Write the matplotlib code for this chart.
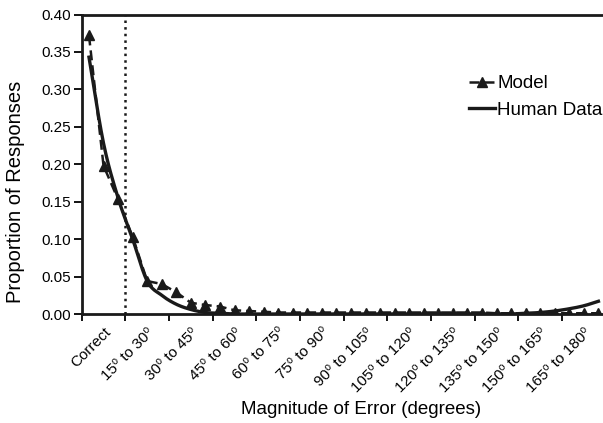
import matplotlib
matplotlib.use("Agg")
import matplotlib.pyplot as plt
import numpy as np

plt.rcParams['font.family'] = ['Liberation Sans', 'DejaVu Sans']

SUP = "\u2070"
categories = ["Correct", f"15{SUP} to 30{SUP}", f"30{SUP} to 45{SUP}", f"45{SUP} to 60{SUP}",
              f"60{SUP} to 75{SUP}", f"75{SUP} to 90{SUP}", f"90{SUP} to 105{SUP}",
              f"105{SUP} to 120{SUP}", f"120{SUP} to 135{SUP}", f"135{SUP} to 150{SUP}",
              f"150{SUP} to 165{SUP}", f"165{SUP} to 180{SUP}"]

# 5-degree resolution samples (3 per category)
model = [0.372, 0.198, 0.153, 0.103, 0.044, 0.040, 0.029, 0.015, 0.012, 0.010,
         0.005, 0.004, 0.003, 0.002, 0.002, 0.002, 0.002, 0.002, 0.002, 0.002,
         0.002, 0.002, 0.002, 0.002, 0.002, 0.002, 0.002, 0.002, 0.001, 0.001,
         0.001, 0.001, 0.001, 0.001, 0.001, 0.001]
human = [0.343, 0.228, 0.155, 0.100, 0.044, 0.025, 0.013, 0.006, 0.002, 0.001,
         0.000, 0.000, 0.000, 0.000, 0.000, 0.000, 0.000, 0.000, 0.000, 0.000,
         0.000, 0.000, 0.000, 0.000, 0.000, 0.000, 0.000, 0.000, 0.000, 0.000,
         0.001, 0.002, 0.004, 0.007, 0.011, 0.017]


def smooth(x, y, steps=12):
    """Catmull-Rom style smoothing through the given points (like a smoothed line)."""
    x = np.asarray(x, float)
    y = np.asarray(y, float)
    px = np.concatenate([[2 * x[0] - x[1]], x, [2 * x[-1] - x[-2]]])
    py = np.concatenate([[2 * y[0] - y[1]], y, [2 * y[-1] - y[-2]]])
    ox, oy = [], []
    t = np.linspace(0, 1, steps, endpoint=False)
    for i in range(1, len(px) - 2):
        for P, out in ((px, ox), (py, oy)):
            p0, p1, p2, p3 = P[i - 1], P[i], P[i + 1], P[i + 2]
            out.extend(0.5 * ((2 * p1) + (-p0 + p2) * t +
                              (2 * p0 - 5 * p1 + 4 * p2 - p3) * t ** 2 +
                              (-p0 + 3 * p1 - 3 * p2 + p3) * t ** 3))
    ox.append(x[-1])
    oy.append(y[-1])
    return np.array(ox), np.array(oy)


fig = plt.figure(figsize=(6.03, 4.23), dpi=100)
ax = fig.add_axes([81.7 / 603, (423 - 314) / 423, 524 / 603, 299.5 / 423])

n = len(model)
xs = -0.5 + (np.arange(n) + 0.5) / 3.0

hx, hy = smooth(xs, human)
hline, = ax.plot(hx, hy, '-', color='#1a1a1a', lw=2.4, zorder=3)
mline, = ax.plot(xs, model, '--', color='#1a1a1a', lw=1.8, marker='^',
                 markersize=7.5, dashes=(4, 2), zorder=4)

ax.axvline(0.5, color='#1a1a1a', ls=':', lw=1.8, zorder=2)

ax.set_xlim(-0.5, 11.5)
ax.set_ylim(0, 0.40)
yt = np.arange(0, 0.401, 0.05)
ax.set_yticks(yt)
ax.set_yticklabels([f"{v:.2f}" for v in yt], fontsize=11)

ax.set_xticks(np.arange(-0.5, 11.51, 1.0))
ax.set_xticklabels([])
ax.set_xticks(np.arange(12), minor=True)
ax.set_xticklabels(categories, minor=True, rotation=45, ha='right',
                   rotation_mode='anchor', fontsize=11)
ax.tick_params(axis='x', which='minor', length=0, pad=8)
ax.tick_params(axis='x', which='major', length=5, width=1.3, direction='out')
ax.tick_params(axis='y', length=6, width=1.3, direction='out', pad=1.5)

for s in ['left', 'bottom', 'top']:
    ax.spines[s].set_linewidth(2.0)
    ax.spines[s].set_color('#1a1a1a')
ax.spines['right'].set_visible(False)

ax.set_ylabel("Proportion of Responses", fontsize=14.5)
ax.yaxis.set_label_coords(-0.108, 0.407)
ax.set_xlabel("Magnitude of Error (degrees)", fontsize=13.5)
ax.xaxis.set_label_coords(0.533, -0.29)

fig.legend([mline, hline], ["Model", "Human Data"], loc='center left',
           bbox_to_anchor=(469 / 603, 1 - 97 / 423), frameon=False, fontsize=13.5,
           handlelength=1.4, handletextpad=0.1, labelspacing=0.5,
           borderpad=0, borderaxespad=0)

fig.savefig("out.png", dpi=100)
